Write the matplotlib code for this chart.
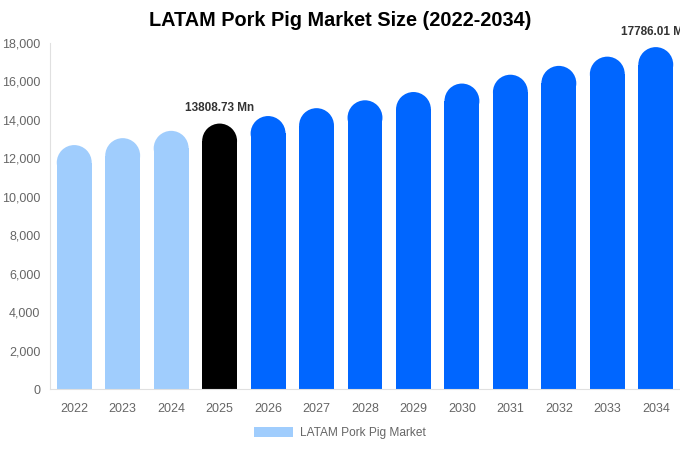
import matplotlib
matplotlib.use("Agg")
import matplotlib.pyplot as plt
import matplotlib.patches as patches

years = ["2022", "2023", "2024", "2025", "2026", "2027", "2028",
         "2029", "2030", "2031", "2032", "2033", "2034"]
values = [12690, 13050, 13430, 13808.73, 14200, 14610, 15020,
          15450, 15890, 16350, 16810, 17290, 17786.01]
colors = ["#a0cdfd"] * 3 + ["#000000"] + ["#0066ff"] * 9
labels = {3: "13808.73 Mn", 12: "17786.01 Mn"}
legend_label = "LATAM Pork Pig Market"

plt.rcParams['font.family'] = ['Liberation Sans', 'DejaVu Sans']

fig = plt.figure(figsize=(6.8, 4.5), dpi=100)
ax = fig.add_axes([50/680, 1 - 389/450, 630/680, 346/450])

ymax = 18000
ax.set_xlim(-0.5, len(years) - 0.5)
ax.set_ylim(0, ymax)

bar_w = 0.72
# radius of the rounded top in data units (half bar width in pixels)
px_per_x = 630 / len(years)
px_per_y = 346 / ymax
r_px = bar_w * px_per_x / 2
r_y = r_px / px_per_y

for i, v in enumerate(values):
    ax.add_patch(patches.Rectangle((i - bar_w/2, 0), bar_w, v - r_y,
                                   facecolor=colors[i], edgecolor="none"))
    ax.add_patch(patches.Ellipse((i, v - r_y), bar_w, 2*r_y,
                                 facecolor=colors[i], edgecolor="none"))
    if i in labels:
        ax.text(i, v + 480, labels[i], ha="center", va="bottom",
                fontsize=8.5, fontweight="bold", color="#333333", clip_on=False)

ax.set_xticks(range(len(years)))
ax.set_xticklabels(years)
ax.set_yticks(range(0, 18001, 2000))
ax.set_yticklabels([f"{t:,}" for t in range(0, 18001, 2000)])
ax.tick_params(length=0, colors="#666666", labelsize=9)
ax.tick_params(axis="x", pad=10)
ax.tick_params(axis="y", pad=7)

for s in ["top", "right"]:
    ax.spines[s].set_visible(False)
ax.spines["left"].set_color("#e0e0e0")
ax.spines["bottom"].set_color("#e0e0e0")

fig.text(0.5, 1 - 21/450, "LATAM Pork Pig Market Size (2022-2034)",
         ha="center", va="center", fontsize=14.3, fontweight="bold")

handle = patches.Patch(facecolor="#a0cdfd", edgecolor="none")
leg = fig.legend([handle], [legend_label], loc="center",
                 bbox_to_anchor=(0.5, 1 - 433/450), frameon=False,
                 handlelength=3.2, handleheight=0.9, handletextpad=0.6,
                 fontsize=8.6)
for t in leg.get_texts():
    t.set_color("#666666")

fig.savefig("out.png", dpi=100)
